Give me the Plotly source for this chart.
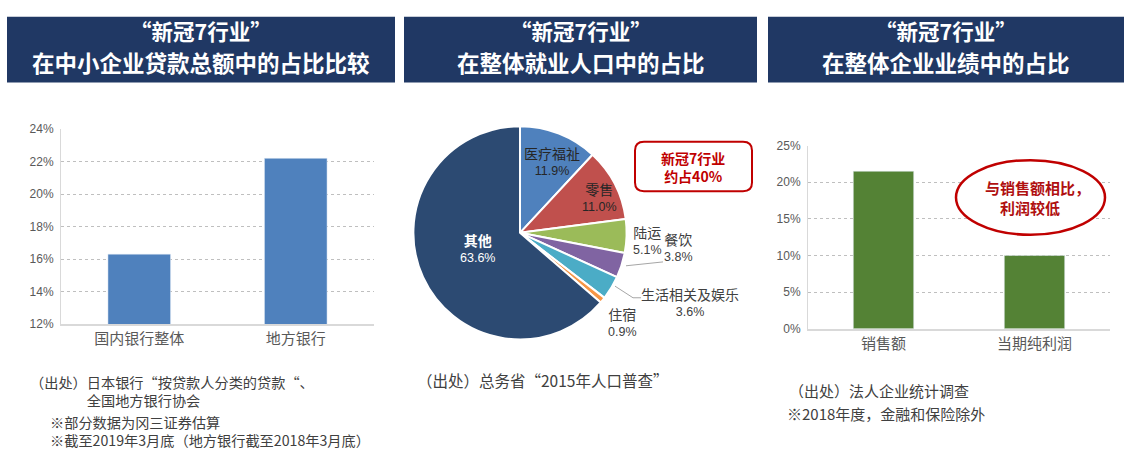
import plotly.graph_objects as go

W, H = 1133, 455


def px(x):
    return x / W


def py(y):
    return 1 - y / H


# ---------------- data ----------------
loan_categories = ["国内银行整体", "地方银行"]
loan_share = [16.3, 22.2]
loan_ticks = [12, 14, 16, 18, 20, 22, 24]

pie_labels = ["医疗福祉", "零售", "陆运", "餐饮", "生活相关及娱乐", "住宿", "其他"]
pie_values = [11.9, 11.0, 5.1, 3.8, 3.6, 0.9, 63.6]
pie_colors = ["#4f81bd", "#c0504d", "#9bbb59", "#8064a2", "#4bacc6", "#f79646", "#2c4a72"]

perf_categories = ["销售额", "当期纯利润"]
perf_share = [21.5, 10.0]
perf_ticks = [0, 5, 10, 15, 20, 25]

titles = [
    ("“新冠7行业”", "在中小企业贷款总额中的占比比较"),
    ("“新冠7行业”", "在整体就业人口中的占比"),
    ("“新冠7行业”", "在整体企业业绩中的占比"),
]

FONT = "Liberation Sans, Arial, Noto Sans CJK SC, sans-serif"
CJK = "Noto Sans CJK SC, sans-serif"

fig = go.Figure()

fig.add_trace(go.Bar(
    x=loan_categories, y=loan_share, marker_color="#4f81bd",
    xaxis="x", yaxis="y", showlegend=False, hoverinfo="none",
))

fig.add_trace(go.Pie(
    labels=pie_labels, values=pie_values, sort=False, direction="clockwise",
    rotation=0, marker=dict(colors=pie_colors, line=dict(color="white", width=2)),
    textinfo="none", hoverinfo="none", showlegend=False,
    domain=dict(x=[px(410), px(630)], y=[py(343), py(123)]),
))

fig.add_trace(go.Bar(
    x=perf_categories, y=perf_share, marker_color="#548235",
    xaxis="x3", yaxis="y3", showlegend=False, hoverinfo="none",
))

axis_common_y = dict(
    showgrid=True, gridcolor="#bfbfbf", griddash="dot", gridwidth=1,
    showline=True, linecolor="#d9d9d9", linewidth=1, zeroline=False,
    ticks="", tickfont=dict(size=12, color="#595959", family=FONT),
    ticklabelstandoff=4, fixedrange=True,
)
axis_common_x = dict(
    showgrid=False, showline=True, linecolor="#d9d9d9", linewidth=2,
    ticks="", tickfont=dict(size=15, color="#595959", family=CJK), fixedrange=True,
)

shapes = []
annotations = []


def note(text, x, y, size, color, family=CJK, xanchor="center", align="center"):
    annotations.append(dict(text=text, x=px(x), y=py(y), xref="paper", yref="paper",
                            xanchor=xanchor, yanchor="middle", showarrow=False, align=align,
                            font=dict(size=size, color=color, family=family)))


# header boxes
boxes = [(7, 395), (404, 757), (768, 1124)]
for (x0, x1), (l1, l2) in zip(boxes, titles):
    shapes.append(dict(type="rect", xref="paper", yref="paper",
                       x0=px(x0), x1=px(x1), y0=py(78), y1=py(10),
                       fillcolor="#203864", line=dict(width=0), layer="below"))
    cx = (x0 + x1) / 2
    note("<b>" + l1 + "</b>", cx, 24, 21.5, "white")
    note("<b>" + l2 + "</b>", cx, 57, 22.5, "white")

# pie labels (name over percentage)
pie_label_pos = {
    "医疗福祉": (552, 158, "#262626"),
    "零售": (599, 195, "#262626"),
    "陆运": (647, 240, "#404040"),
    "餐饮": (678, 247, "#404040"),
    "生活相关及娱乐": (690, 304, "#404040"),
    "住宿": (622, 324, "#404040"),
    "其他": (477, 248, "white"),
}
for lab, val in zip(pie_labels, pie_values):
    cx, cy, col = pie_label_pos[lab]
    name = "<b>" + lab + "</b>" if lab == "其他" else lab
    name = "<span style='font-size:14px'>" + name + "</span>"
    pct = f"<span style='font-family:Liberation Sans, Arial'>{val:.1f}%</span>"
    note(name + "<br>" + pct, cx, cy, 12.5, col)

# leader lines
shapes.append(dict(type="line", xref="paper", yref="paper", x0=px(626), y0=py(267),
                   x1=px(663), y1=py(263), line=dict(color="#a6a6a6", width=1)))
shapes.append(dict(type="path", xref="paper", yref="paper",
                   path=f"M {px(615)} {py(288)} L {px(633)} {py(300)} L {px(641)} {py(300)}",
                   line=dict(color="#a6a6a6", width=1)))

# callout rounded box
x0, x1, y0, y1, r = 635, 752, 139, 190, 9
rx, ry = r / W, r / H
X0, X1, Y0, Y1 = px(x0), px(x1), py(y1), py(y0)
path = (f"M {X0+rx} {Y0} L {X1-rx} {Y0} Q {X1} {Y0} {X1} {Y0+ry} "
        f"L {X1} {Y1-ry} Q {X1} {Y1} {X1-rx} {Y1} L {X0+rx} {Y1} "
        f"Q {X0} {Y1} {X0} {Y1-ry} L {X0} {Y0+ry} Q {X0} {Y0} {X0+rx} {Y0} Z")
shapes.append(dict(type="path", xref="paper", yref="paper", path=path,
                   line=dict(color="#c00000", width=2), fillcolor="white"))
note("<b>新冠7行业<br>约占40%</b>", 693, 165, 14, "#c00000")

# ellipse callout
shapes.append(dict(type="circle", xref="paper", yref="paper",
                   x0=px(956), x1=px(1105), y0=py(235), y1=py(158),
                   line=dict(color="#c00000", width=2.5), fillcolor="white"))
note("<b>与销售额相比，<br>\u3000利润较低</b>", 983, 197, 15, "#b01010",
     xanchor="left", align="left")

# footnotes
note("（出处）日本银行“按贷款人分类的贷款“、<br>\u3000\u3000\u3000\u3000全国地方银行协会",
     28, 396, 14.2, "#404040", xanchor="left", align="left")
note("※部分数据为冈三证券估算<br>※截至2019年3月底（地方银行截至2018年3月底）",
     48, 437, 14.2, "#404040", xanchor="left", align="left")
note("（出处）总务省“2015年人口普查”", 415, 385, 15.5, "#404040", xanchor="left")
note("（出处）法人企业统计调查", 787, 396, 15, "#404040", xanchor="left")
note("※2018年度，金融和保险除外", 785, 419, 15, "#404040", xanchor="left")

fig.update_layout(
    width=W, height=H, margin=dict(l=0, r=0, t=0, b=0),
    paper_bgcolor="white", plot_bgcolor="white", bargap=0.6,
    xaxis=dict(domain=[px(61), px(374)], anchor="y", **axis_common_x),
    yaxis=dict(domain=[py(327), py(126)], anchor="x", range=[12, 24],
               tickvals=loan_ticks, ticktext=[f"{t}%" for t in loan_ticks], **axis_common_y),
    xaxis3=dict(domain=[px(808), px(1110)], anchor="y3", **axis_common_x),
    yaxis3=dict(domain=[py(332), py(143)], anchor="x3", range=[0, 25],
                tickvals=perf_ticks, ticktext=[f"{t}%" for t in perf_ticks], **axis_common_y),
    shapes=shapes, annotations=annotations,
    font=dict(family=FONT),
)

fig.write_html("out.html", config={"displayModeBar": False},
               post_script="document.body.style.margin='0';")
